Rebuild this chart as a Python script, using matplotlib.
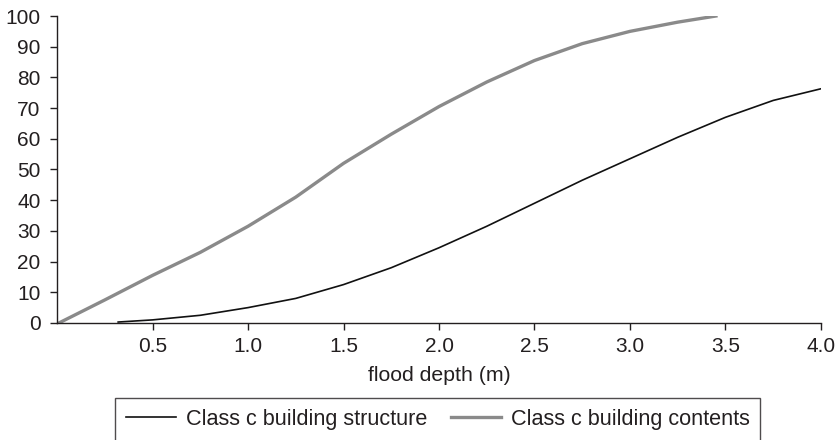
import matplotlib
matplotlib.use("Agg")
import matplotlib.pyplot as plt

plt.rcParams['font.family'] = ['Liberation Sans', 'DejaVu Sans']

# depth-damage curves (damage % vs flood depth in m)
structure_depth = [0.32, 0.5, 0.75, 1.0, 1.25, 1.5, 1.75, 2.0, 2.25, 2.5, 2.75, 3.0, 3.25, 3.5, 3.75, 4.0]
structure_damage = [0.3, 1.0, 2.5, 5.0, 8.0, 12.5, 18.0, 24.5, 31.5, 39.0, 46.5, 53.5, 60.5, 67.0, 72.5, 76.3]

contents_depth = [0.01, 0.25, 0.5, 0.75, 1.0, 1.25, 1.5, 1.75, 2.0, 2.25, 2.5, 2.75, 3.0, 3.25, 3.45]
contents_damage = [0.0, 7.5, 15.5, 23.0, 31.5, 41.0, 52.0, 61.5, 70.5, 78.5, 85.5, 91.0, 95.0, 98.0, 100.0]

x_ticks = [0.5, 1.0, 1.5, 2.0, 2.5, 3.0, 3.5, 4.0]
y_ticks = list(range(0, 101, 10))

text_col = "#231f20"
fs = 15

fig = plt.figure(figsize=(8.39, 4.40), dpi=100)
ax = fig.add_axes([0.068, 0.266, 0.9105, 0.6976])

ax.plot(structure_depth, structure_damage, color="#111111", lw=1.2,
        label="Class c building structure")
ax.plot(contents_depth, contents_damage, color="#8a8a8a", lw=2.4,
        label="Class c building contents")

ax.set_xlim(0, 4.0)
ax.set_ylim(0, 100)
ax.set_xticks(x_ticks)
ax.set_xticklabels([f"{t:.1f}" for t in x_ticks])
ax.set_yticks(y_ticks)
ax.set_xlabel("flood depth (m)", fontsize=15.3, color=text_col, labelpad=7)

for side in ("top", "right"):
    ax.spines[side].set_visible(False)
for side in ("left", "bottom"):
    ax.spines[side].set_color(text_col)
    ax.spines[side].set_linewidth(1.0)
ax.tick_params(direction="out", length=5, width=1.0, color=text_col,
               labelsize=fs, labelcolor=text_col)
ax.tick_params(axis="y", pad=7)
ax.tick_params(axis="x", pad=5)

leg = fig.legend(loc="center", bbox_to_anchor=(0.522, 0.047), ncol=2,
                 fontsize=15.6, frameon=True, fancybox=False, handlelength=2.3,
                 handletextpad=0.45, columnspacing=1.1, borderpad=0.5)
leg.get_frame().set_edgecolor(text_col)
leg.get_frame().set_linewidth(1.0)
for t in leg.get_texts():
    t.set_color(text_col)

fig.savefig("out.png", dpi=100)
